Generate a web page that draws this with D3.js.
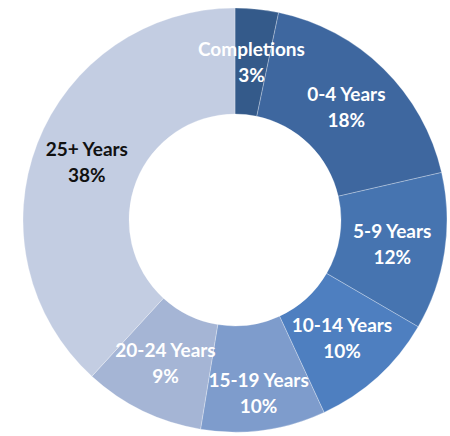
<!DOCTYPE html>
<html>
<head>
<meta charset="utf-8">
<script src="https://cdn.jsdelivr.net/npm/d3@7"></script>
<style>
  html, body { margin: 0; padding: 0; background: #ffffff; }
  svg text { font-family: Lato, "Open Sans", sans-serif; font-weight: bold; }
</style>
</head>
<body>
<svg id="myGraph" width="450" height="436"></svg>
<script>
// data
var categories = ["Completions", "0-4 Years", "5-9 Years", "10-14 Years", "15-19 Years", "20-24 Years", "25+ Years"];
var shares = [3.3, 18.1, 12.0, 9.7, 9.5, 9.2, 38.2];
var shareLabels = ["3%", "18%", "12%", "10%", "10%", "9%", "38%"];
var sliceColors = ["#345a8a", "#3e679f", "#4674b0", "#4e7fc0", "#7e9ccc", "#a5b5d5", "#c3cde2"];
var labelColors = ["#ffffff", "#ffffff", "#ffffff", "#ffffff", "#ffffff", "#ffffff", "#111111"];

const CX = 235;
const CY = 220;
const OUTER_R = 212;
const INNER_R = 106;
const LABEL_R = 159;
// 15-19 の表示位置を少し外側へ
const LABEL_NUDGE = { "15-19 Years": 16 };

var svg = d3.select("#myGraph");
var g = svg.append("g").attr("transform", "translate(" + CX + "," + CY + ")");

var dataset = categories.map(function(c, i){
  return { name: c, value: shares[i], label: shareLabels[i], color: sliceColors[i], textColor: labelColors[i] };
});

var pie = d3.pie().sort(null).value(function(d){ return d.value; });
var arc = d3.arc().innerRadius(INNER_R).outerRadius(OUTER_R);
var arcs = pie(dataset);

//スライス描画
g.selectAll(".slice")
  .data(arcs)
  .enter()
  .append("path")
  .attr("class", "slice")
  .attr("d", arc)
  .attr("fill", function(d){ return d.data.color; })
  .attr("stroke", "rgba(255,255,255,0.35)")
  .attr("stroke-width", 0.8);

//ラベル
var labels = g.selectAll(".lbl")
  .data(arcs)
  .enter()
  .append("text")
  .attr("class", "lbl")
  .attr("text-anchor", "middle")
  .attr("font-size", 19)
  .attr("fill", function(d){ return d.data.textColor; })
  .attr("transform", function(d){
    var r = LABEL_R + (LABEL_NUDGE[d.data.name] || 0);
    var pos = d3.arc().innerRadius(r).outerRadius(r).centroid(d);
    return "translate(" + pos[0] + "," + pos[1] + ")";
  });

labels.append("tspan")
  .attr("x", 0)
  .attr("y", -6)
  .text(function(d){ return d.data.name; });

labels.append("tspan")
  .attr("x", 0)
  .attr("y", 20)
  .text(function(d){ return d.data.label; });
</script>
</body>
</html>
